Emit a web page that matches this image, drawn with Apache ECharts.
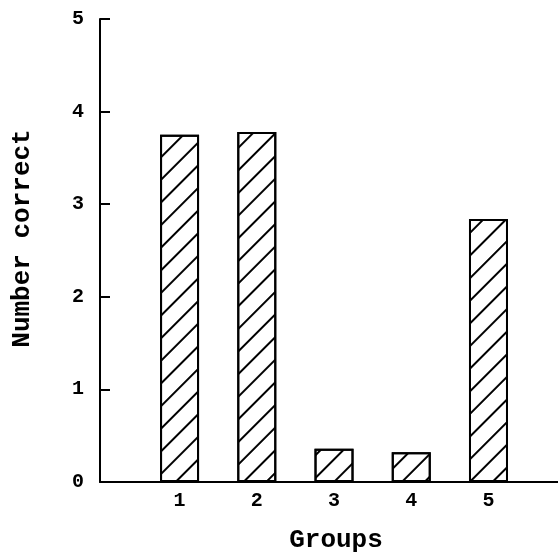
<!DOCTYPE html>
<html>
<head>
<meta charset="utf-8">
<script src="https://cdn.jsdelivr.net/npm/echarts@6/dist/echarts.min.js"></script>
<style>
  html, body { margin: 0; padding: 0; background: #fff; }
  #chart { width: 558px; height: 560px; }
</style>
</head>
<body>
<div id="chart"></div>
<script>
// Mean number of correct answers for each group
const groups = [1, 2, 3, 4, 5];
const numberCorrect = [3.75, 3.78, 0.36, 0.32, 2.84];
const yTicks = [0, 1, 2, 3, 4, 5];

const FONT = '"Liberation Mono", "DejaVu Sans Mono", monospace';

const chart = echarts.init(document.getElementById('chart'), null, { renderer: 'canvas' });

chart.setOption({
  animation: false,
  backgroundColor: '#ffffff',
  grid: { left: 100, right: 0, top: 19, bottom: 78, containLabel: false, outerBoundsMode: 'none' },
  xAxis: {
    type: 'value',
    min: -0.03,
    max: 5.9,
    name: 'Groups',
    nameLocation: 'middle',
    nameGap: 45,
    nameTextStyle: { fontFamily: FONT, fontWeight: 'bold', fontSize: 26, color: '#000', padding: [0, 0, 0, 14] },
    axisLine: { show: true, onZero: false, lineStyle: { color: '#000', width: 2 } },
    axisTick: { show: false },
    splitLine: { show: false },
    axisLabel: {
      customValues: groups,
      margin: 9,
      fontFamily: FONT, fontWeight: 'bold', fontSize: 20, color: '#000'
    }
  },
  yAxis: {
    type: 'value',
    min: yTicks[0],
    max: yTicks[yTicks.length - 1],
    interval: 1,
    name: 'Number correct',
    nameLocation: 'middle',
    nameGap: 65,
    nameRotate: 90,
    nameTextStyle: { fontFamily: FONT, fontWeight: 'bold', fontSize: 26, color: '#000', padding: [0, 0, 0, 24] },
    axisLine: { show: true, onZero: false, lineStyle: { color: '#000', width: 2 } },
    axisTick: { show: true, inside: true, length: 10, lineStyle: { color: '#000', width: 2 } },
    splitLine: { show: false },
    axisLabel: { margin: 16, fontFamily: FONT, fontWeight: 'bold', fontSize: 20, color: '#000' }
  },
  series: [{
    type: 'bar',
    barWidth: 39,
    data: groups.map((g, i) => [g, numberCorrect[i]]),
    itemStyle: {
      color: '#ffffff',
      borderColor: '#000',
      borderWidth: 2,
      decal: {
        symbol: 'rect',
        symbolSize: 1,
        color: '#000',
        dashArrayX: [1, 0],
        dashArrayY: [2, 14],
        rotation: -Math.PI / 4
      }
    }
  }]
});
</script>
</body>
</html>
